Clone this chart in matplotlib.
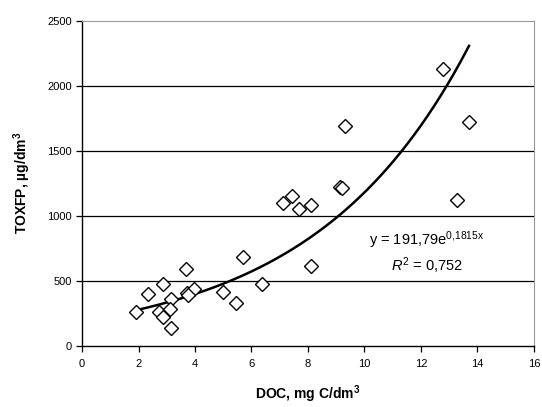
import numpy as np
import matplotlib
matplotlib.use('Agg')
import matplotlib.pyplot as plt

plt.rcParams['font.family'] = 'Liberation Sans'
plt.rcParams['mathtext.fontset'] = 'custom'
plt.rcParams['mathtext.rm'] = 'Liberation Sans'
plt.rcParams['mathtext.it'] = 'Liberation Sans:italic'
plt.rcParams['mathtext.bf'] = 'Liberation Sans:bold'

# DOC (mg C/dm3) vs TOXFP (ug/dm3)
doc = [1.91, 2.32, 2.86, 3.68, 5.71, 3.14, 2.74, 2.88, 3.12, 3.15, 3.71, 3.96, 3.76,
       5.00, 5.44, 6.36, 7.10, 7.42, 7.69, 8.09, 9.13, 9.20, 8.09, 12.79, 9.31, 13.70, 13.29]
toxfp = [260, 396, 473, 586, 683, 355, 260, 222, 278, 132, 401, 432, 388,
         414, 325, 471, 1094, 1150, 1050, 1081, 1222, 1210, 612, 2127, 1691, 1717, 1119]

# exponential trend line from the chart
a = 191.79
b = 0.1815
fit_x = np.linspace(1.91, 13.70, 200)
fit_y = a * np.exp(b * fit_x)

fig = plt.figure(figsize=(5.42, 4.07), dpi=100)
ax = fig.add_axes([0.1513, 0.1511, 0.8339, 0.7985])

for yv in [500, 1000, 1500, 2000]:
    ax.axhline(yv, color='black', linewidth=0.9, zorder=1)

ax.plot(fit_x, fit_y, color='black', linewidth=1.8, zorder=2)
ax.plot(doc, toxfp, linestyle='none', marker='D', markersize=7,
        markerfacecolor='white', markeredgecolor='black', markeredgewidth=1.0, zorder=3)

ax.set_xlim(0, 16)
ax.set_ylim(0, 2500)
ax.set_xticks(range(0, 17, 2))
ax.set_yticks(range(0, 2501, 500))
ax.tick_params(labelsize=8, direction='out', length=4, width=0.9, colors='black')
ax.tick_params(axis='x', pad=6)

for side in ['top', 'right']:
    ax.spines[side].set_color('#999999')
for side in ['left', 'bottom']:
    ax.spines[side].set_color('black')
    ax.spines[side].set_linewidth(1.0)

ax.set_xlabel(r'DOC, mg C/dm$^{\mathbf{3}}$', fontsize=10, fontweight='bold', labelpad=10)
ax.set_ylabel(r'TOXFP, µg/dm$^{\mathbf{3}}$', fontsize=10, fontweight='bold', labelpad=10)

ax.text(12.2, 811, r'y = 191,79e$^{\mathrm{0{,}1815x}}$', fontsize=10.5, ha='center', va='center')
ax.text(12.2, 611, r'$R^2$ = 0,752', fontsize=10.5, ha='center', va='center')

fig.savefig('out.png', dpi=100)
